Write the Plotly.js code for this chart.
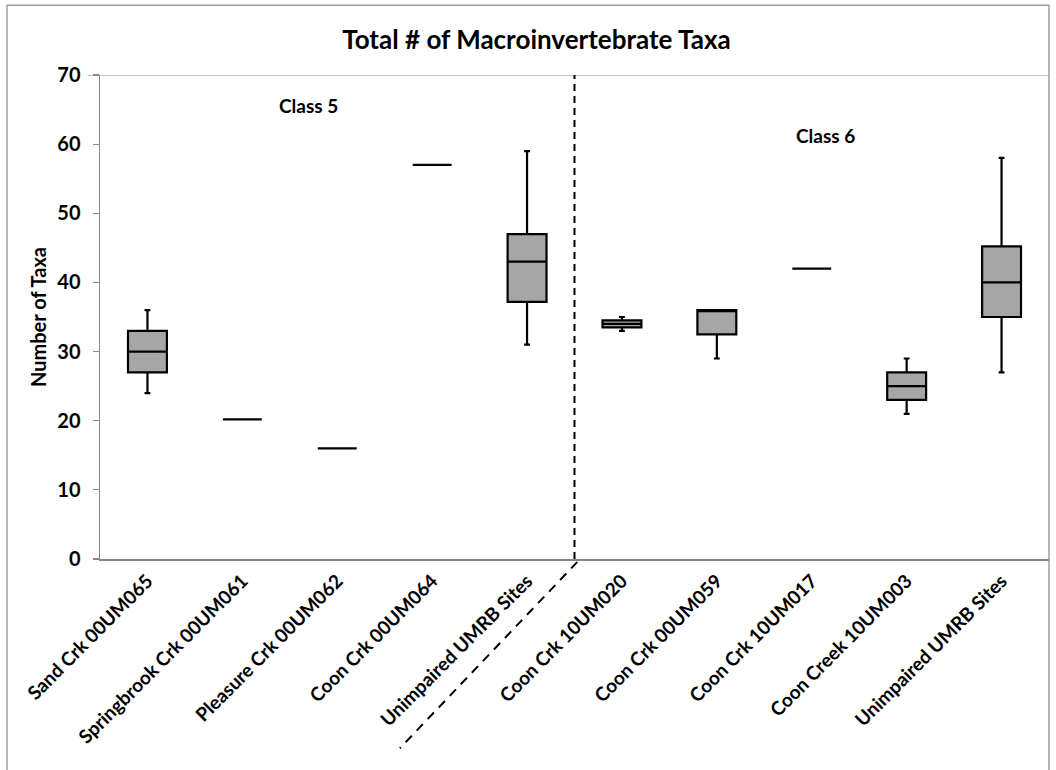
<!DOCTYPE html>
<html>
<head>
<meta charset="utf-8">
<script src="https://cdn.plot.ly/plotly-3.0.1.min.js"></script>
<style>html,body{margin:0;padding:0;background:#fff;}#chart{width:1056px;height:770px;}</style>
</head>
<body>
<div id="chart"></div>
<script>
// Data
const sites = ["Sand Crk 00UM065","Springbrook Crk 00UM061","Pleasure Crk 00UM062","Coon Crk 00UM064","Unimpaired UMRB Sites",
               "Coon Crk 10UM020","Coon Crk 00UM059","Coon Crk 10UM017","Coon Creek 10UM003","Unimpaired UMRB Sites"];
const minVals    = [24, 20.2, 16, 57, 31,   33,   29,   42, 21, 27];
const q1Vals     = [27, 20.2, 16, 57, 37.2, 33.5, 32.5, 42, 23, 35];
const medianVals = [30, 20.2, 16, 57, 43,   34,   36,   42, 25, 40];
const q3Vals     = [33, 20.2, 16, 57, 47,   34.5, 36,   42, 27, 45.2];
const maxVals    = [36, 20.2, 16, 57, 59,   35,   36,   42, 29, 58];
const classLabels = ["Class 5", "Class 6"];
const yTicks = [0, 10, 20, 30, 40, 50, 60, 70];

const positions = sites.map((_, i) => i);
const boundaries = sites.map((_, i) => i - 0.5).concat([sites.length - 0.5]);

const FONT = "Lato, 'Open Sans', sans-serif";

const trace = {
  type: "box",
  x: positions,
  lowerfence: minVals,
  q1: q1Vals,
  median: medianVals,
  q3: q3Vals,
  upperfence: maxVals,
  boxpoints: false,
  width: 0.41,
  whiskerwidth: 0.15,
  fillcolor: "#a6a6a6",
  line: {color: "#000000", width: 2.2},
  showlegend: false,
  hoverinfo: "skip"
};

const layout = {
  width: 1056, height: 770,
  paper_bgcolor: "#ffffff", plot_bgcolor: "#ffffff",
  margin: {l: 100, r: 7, t: 75, b: 211},
  font: {family: FONT, color: "#000"},
  title: {text: "Total # of Macroinvertebrate Taxa", font: {family: FONT, size: 26, weight: "bold", color: "#000"},
          x: 0.508, xref: "container", y: 0.948, yref: "container", xanchor: "center", yanchor: "middle"},
  xaxis: {
    range: [-0.5, sites.length - 0.5],
    tickmode: "array", tickvals: positions, ticktext: sites,
    tickangle: -45, ticks: "", showgrid: false, zeroline: false,
    showline: true, linecolor: "#868686", linewidth: 1.5,
    tickfont: {family: FONT, size: 19, weight: "bold", color: "#000"},
    ticklabelstandoff: 2,
    fixedrange: true
  },
  xaxis2: {
    overlaying: "x", anchor: "y",
    range: [-0.5, sites.length - 0.5],
    tickmode: "array", tickvals: boundaries, ticks: "outside", ticklen: 6, tickcolor: "#868686", tickwidth: 1.2,
    showticklabels: false, showgrid: false, zeroline: false, showline: false
  },
  yaxis: {
    range: [0, 70], tickmode: "array", tickvals: yTicks,
    ticks: "outside", ticklen: 6, tickcolor: "#868686", tickwidth: 1.2,
    showline: true, linecolor: "#868686", linewidth: 1.5, mirror: false,
    showgrid: false, zeroline: false,
    tickfont: {family: FONT, size: 20, weight: "bold", color: "#000"},
    ticklabelstandoff: 8,
    title: {text: "Number of Taxa", font: {family: FONT, size: 20, weight: "bold", color: "#000"}, standoff: 5}
  },
  shapes: [
    // outer chart border
    {type: "rect", xref: "paper", yref: "paper", x0: -0.098, x1: 1.0, y0: -0.46, y1: 1.144,
     line: {color: "#a0a0a0", width: 1.5}, layer: "below"},
    // top plot border at 70
    {type: "line", xref: "paper", yref: "y", x0: -0.013, x1: 1, y0: 70, y1: 70, line: {color: "#868686", width: 1.2}},
    // vertical dashed separator
    {type: "line", xref: "x", yref: "y", x0: 4.5, x1: 4.5, y0: 0, y1: 70, line: {color: "#000", width: 2, dash: "7px,5px"}},
    // diagonal dashed separator through the label area
    {type: "line", xref: "x", yref: "paper", x0: 4.53, x1: 2.66, y0: -0.006, y1: -0.391, line: {color: "#000", width: 2, dash: "9px,7px"}}
  ],
  annotations: [
    {text: classLabels[0], xref: "paper", yref: "paper", x: (308 - 100) / 949, y: (558.7 - 105) / 484,
     xanchor: "center", yanchor: "middle",
     showarrow: false, font: {family: FONT, size: 19, weight: "bold", color: "#000"}},
    {text: classLabels[1], xref: "paper", yref: "paper", x: (825 - 100) / 949, y: (558.7 - 135) / 484,
     xanchor: "center", yanchor: "middle",
     showarrow: false, font: {family: FONT, size: 19, weight: "bold", color: "#000"}}
  ]
};

Plotly.newPlot("chart", [trace], layout, {displayModeBar: false, staticPlot: true});
</script>
</body>
</html>
